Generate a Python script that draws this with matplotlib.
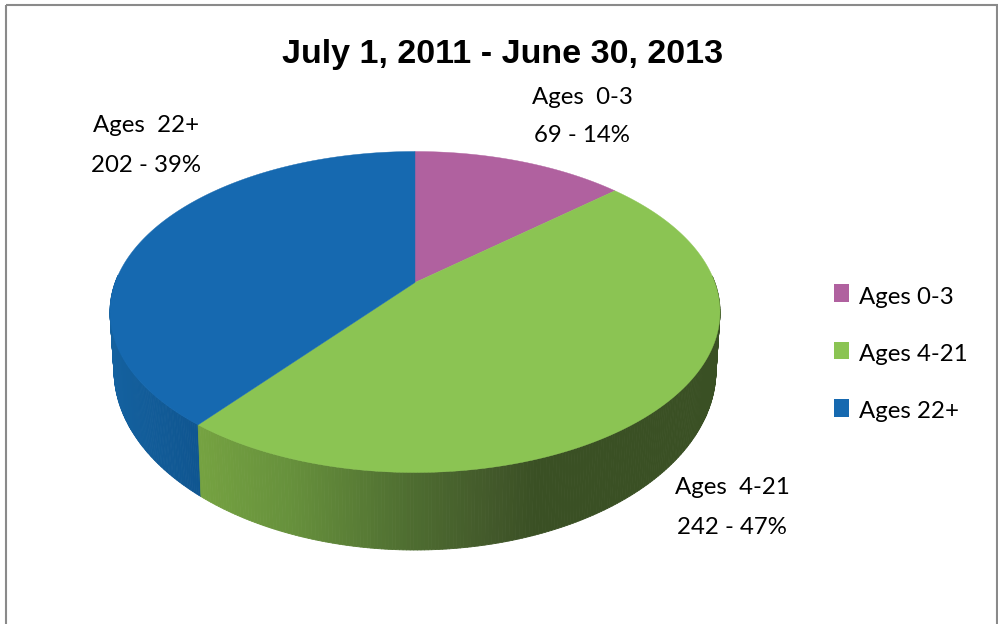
import numpy as np
import matplotlib
matplotlib.use("Agg")
import matplotlib.pyplot as plt
from matplotlib.collections import PolyCollection
from matplotlib.colors import LinearSegmentedColormap
from matplotlib.patches import Rectangle

title = "July 1, 2011 - June 30, 2013"
groups = ["Ages 0-3", "Ages 4-21", "Ages 22+"]
counts = [69, 242, 202]
percents = [14, 47, 39]

top_colors = ["#b0619f", "#8bc453", "#1669b0"]
# wall shading goes left to right across the pie
green_wall = LinearSegmentedColormap.from_list("green_wall", [
    (0.0, "#75a241"), (0.18, "#66903c"), (0.42, "#4d6b30"),
    (0.57, "#42582a"), (0.65, "#3a5024"), (1.0, "#3a5024")])
blue_wall = LinearSegmentedColormap.from_list("blue_wall", ["#14619f", "#0f5590"])
wall_maps = [None, green_wall, blue_wall]
wall_spans = [None, (203, 716), (115, 203)]

CX = 415
TILT = 0.1837


def rim(angle, half_w, half_h, mid_y):
    # perspective view of a circle: angle is clockwise from twelve o'clock
    s, c = np.sin(angle), np.cos(angle)
    d = 1 + TILT * c
    eye_y = mid_y - half_h * TILT
    h = half_h * (1 - TILT ** 2)
    w = half_w * np.sqrt(1 - TILT ** 2)
    return CX + w * s / d, eye_y - h * c / d


fig = plt.figure(figsize=(9.98, 6.24), dpi=100)
ax = fig.add_axes([0, 0, 1, 1])
ax.set_xlim(0, 998)
ax.set_ylim(624, 0)
ax.axis("off")

# chart frame, open at the bottom
ax.add_patch(Rectangle((6, 4.5), 991, 640, fill=False, ec="#8a8a8a", lw=1.5))

edges = 2 * np.pi * np.cumsum([0] + counts) / sum(counts)

# walls first, only the part facing the viewer, then the top faces over them
for i in [2, 1]:
    t = np.linspace(edges[i], edges[i + 1], 300)
    t = t[np.cos(t) < 0.05]
    x1, y1 = rim(t, 305, 160.5, 312)
    x2, y2 = rim(t, 301, 180, 370)
    quads = [[(x1[j], y1[j]), (x1[j + 1], y1[j + 1]), (x2[j + 1], y2[j + 1]), (x2[j], y2[j])]
             for j in range(len(t) - 1)]
    lo, hi = wall_spans[i]
    cols = wall_maps[i]((x2[:-1] - lo) / (hi - lo))
    ax.add_collection(PolyCollection(quads, facecolors=cols, edgecolors=cols, linewidths=0.6))

for i in range(3):
    t = np.linspace(edges[i], edges[i + 1], 200)
    x, y = rim(t, 305, 160.5, 312)
    apex_y = 312 - 160.5 * TILT
    ax.fill(np.r_[CX, x], np.r_[apex_y, y], color=top_colors[i], lw=0.3)

ax.text(503, 54, title, ha="center", va="center", fontsize=24.5, fontweight="bold",
        family="Liberation Sans", color="black")

# slice labels sit by hand outside the pie
label_pos = [(582, 97, 135), (732, 487, 527), (146, 125, 165)]
for i in range(3):
    lx, y_a, y_b = label_pos[i]
    name, num = groups[i].split(" ")
    ax.text(lx, y_a, name + "  " + num, ha="center", va="center", fontsize=17.3,
            family="Lato", color="black")
    ax.text(lx, y_b, "%d - %d%%" % (counts[i], percents[i]), ha="center", va="center",
            fontsize=17.3, family="Lato", color="black")

# legend: the swatches sit a little above the middle of their text
for i in range(3):
    ax.add_patch(Rectangle((834, 284 + 57.5 * i), 15, 17.5, fc=top_colors[i], ec="none"))
    ax.text(859, 298 + 56.5 * i, groups[i], ha="left", va="center", fontsize=17.3,
            family="Lato", color="black")

fig.savefig("out.png", dpi=100)
